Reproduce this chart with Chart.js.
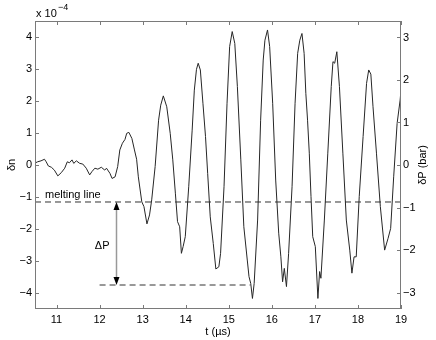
<!DOCTYPE html>
<html lang="en">
<head>
    <meta charset="utf-8" />
    <title>delta n</title>
    <script src="https://cdn.jsdelivr.net/npm/chart.js"></script>
    <style>
        body { margin: 0; background: #fff; }
    </style>
</head>
<body>
    <canvas id="grafico" width="436" height="340"></canvas>
    <script>
        // tempo (us) e delta n (x 1e-4)
        const tempo = [10.5, 10.56, 10.64, 10.72, 10.76, 10.81, 10.88, 10.95, 11.03, 11.11, 11.19, 11.25, 11.30, 11.36, 11.40, 11.46, 11.54, 11.61, 11.69, 11.77, 11.82, 11.89, 11.96, 12.04, 12.12, 12.16, 12.24, 12.29, 12.36, 12.42, 12.47, 12.53, 12.59, 12.63, 12.68, 12.75, 12.81, 12.86, 12.90, 12.98, 13.03, 13.10, 13.16, 13.21, 13.29, 13.37, 13.42, 13.48, 13.56, 13.64, 13.70, 13.76, 13.81, 13.86, 13.90, 13.94, 13.99, 14.07, 14.15, 14.20, 14.25, 14.29, 14.34, 14.40, 14.46, 14.51, 14.57, 14.64, 14.70, 14.77, 14.81, 14.89, 14.96, 15.02, 15.08, 15.14, 15.20, 15.28, 15.35, 15.43, 15.47, 15.51, 15.55, 15.59, 15.67, 15.74, 15.80, 15.84, 15.90, 15.95, 16.02, 16.09, 16.16, 16.21, 16.25, 16.29, 16.34, 16.39, 16.47, 16.54, 16.60, 16.65, 16.70, 16.75, 16.79, 16.83, 16.87, 16.91, 16.95, 17.01, 17.07, 17.11, 17.14, 17.22, 17.30, 17.38, 17.42, 17.46, 17.51, 17.57, 17.65, 17.73, 17.81, 17.86, 17.91, 17.96, 18.03, 18.12, 18.20, 18.25, 18.30, 18.35, 18.43, 18.52, 18.62, 18.70, 18.76, 18.83, 18.91, 18.98, 19.0];
        const deltaN = [0.06, 0.10, 0.13, 0.18, 0.10, -0.03, -0.07, -0.16, -0.34, -0.24, -0.10, 0.10, 0.07, 0.16, 0.05, 0.13, 0.05, 0.03, -0.10, -0.31, -0.21, -0.10, -0.13, -0.07, -0.16, -0.10, -0.26, -0.42, -0.37, -0.05, 0.47, 0.68, 0.80, 0.99, 1.02, 0.83, 0.47, 0.18, -0.37, -1.15, -1.30, -1.84, -1.56, -1.09, -0.05, 1.40, 1.87, 2.16, 1.82, 0.99, 0.16, -0.88, -1.77, -1.93, -2.76, -2.55, -2.24, -0.68, 1.09, 2.34, 2.99, 3.18, 2.97, 1.93, 0.89, -0.26, -1.62, -2.45, -3.25, -3.18, -2.76, -0.68, 1.93, 3.70, 4.17, 3.80, 2.45, 0.16, -1.93, -2.97, -3.49, -3.70, -4.17, -3.70, -1.72, 1.40, 3.28, 3.90, 4.22, 3.70, 1.93, -0.47, -2.13, -2.87, -3.65, -3.23, -3.80, -2.76, -0.68, 1.93, 3.49, 3.90, 4.11, 3.49, 2.24, 1.40, 0.37, -0.99, -2.24, -2.55, -4.17, -3.33, -3.54, -1.72, 0.37, 2.45, 3.23, 3.18, 3.54, 2.45, 0.37, -1.72, -2.66, -3.38, -2.87, -2.87, -0.99, 0.89, 2.55, 2.97, 2.84, 1.82, 0.37, -1.30, -2.66, -2.29, -1.98, -0.37, 1.30, 2.03, 2.35];

        const ticksTempo = [11, 12, 13, 14, 15, 16, 17, 18, 19];
        const ticksDeltaN = [-4, -3, -2, -1, 0, 1, 2, 3, 4];
        const ticksPressao = [-3, -2, -1, 0, 1, 2, 3];

        const linhaFusao = -1.156;     // melting line
        const linhaBaixo = -3.75;      // fim da seta delta P
        const linhaBaixoInicio = 12.0;
        const linhaBaixoFim = 15.5;
        const setaTempo = 12.37;

        const fonte = '11px "Liberation Sans", Arial, sans-serif';
        const corEixo = '#7a7a7a';

        // desenha moldura, ticks para dentro, seta e textos
        const extras = {
            id: 'extras',
            afterDraw(chart) {
                const ctx = chart.ctx;
                const a = chart.chartArea;
                const sx = chart.scales.x, sy = chart.scales.y, sp = chart.scales.y2;
                ctx.save();
                ctx.strokeStyle = corEixo;
                ctx.lineWidth = 1;
                ctx.strokeRect(a.left + 0.5, a.top + 0.5, a.right - a.left - 1, a.bottom - a.top - 1);
                ctx.beginPath();
                ticksTempo.forEach(v => {
                    const px = Math.round(sx.getPixelForValue(v)) + 0.5;
                    ctx.moveTo(px, a.bottom); ctx.lineTo(px, a.bottom - 4);
                    ctx.moveTo(px, a.top); ctx.lineTo(px, a.top + 4);
                });
                ticksDeltaN.forEach(v => {
                    const py = Math.round(sy.getPixelForValue(v)) + 0.5;
                    ctx.moveTo(a.left, py); ctx.lineTo(a.left + 4, py);
                });
                ticksPressao.forEach(v => {
                    const py = Math.round(sp.getPixelForValue(v)) + 0.5;
                    ctx.moveTo(a.right, py); ctx.lineTo(a.right - 4, py);
                });
                ctx.stroke();

                // seta delta P
                const ax = Math.round(sx.getPixelForValue(setaTempo)) + 0.5;
                const y1 = sy.getPixelForValue(linhaFusao);
                const y2 = sy.getPixelForValue(linhaBaixo);
                ctx.strokeStyle = '#999';
                ctx.lineWidth = 1.5;
                ctx.beginPath();
                ctx.moveTo(ax, y1 + 6); ctx.lineTo(ax, y2 - 6);
                ctx.stroke();
                ctx.fillStyle = '#000';
                ctx.beginPath();
                ctx.moveTo(ax, y1); ctx.lineTo(ax - 3, y1 + 8); ctx.lineTo(ax + 3, y1 + 8); ctx.closePath();
                ctx.moveTo(ax, y2); ctx.lineTo(ax - 3, y2 - 8); ctx.lineTo(ax + 3, y2 - 8); ctx.closePath();
                ctx.fill();

                // textos
                ctx.fillStyle = '#000';
                ctx.font = fonte;
                ctx.textBaseline = 'middle';
                ctx.textAlign = 'left';
                ctx.fillText('melting line', a.left + 10, y1 - 7);
                ctx.textAlign = 'right';
                ctx.fillText('ΔP', ax - 7, (y1 + y2) / 2 + 2);

                ctx.textAlign = 'left';
                ctx.fillText('x 10', a.left + 1, 14);
                ctx.font = '9px "Liberation Sans", Arial, sans-serif';
                ctx.fillText('−4', a.left + 23, 8);

                ctx.font = fonte;
                ctx.textAlign = 'center';
                ctx.fillText('t (µs)', (a.left + a.right) / 2, 332);

                const meio = (a.top + a.bottom) / 2;
                ctx.save();
                ctx.translate(12, meio);
                ctx.rotate(-Math.PI / 2);
                ctx.fillText('δn', 0, 0);
                ctx.restore();
                ctx.save();
                ctx.translate(423, meio);
                ctx.rotate(-Math.PI / 2);
                ctx.fillText('δP (bar)', 0, 0);
                ctx.restore();
                ctx.restore();
            }
        };

        const menos = v => String(v).replace('-', '−');

        new Chart(document.getElementById('grafico'), {
            type: 'line',
            data: {
                datasets: [
                    {
                        data: tempo.map((t, i) => ({ x: t, y: deltaN[i] })),
                        borderColor: '#262626',
                        borderWidth: 1,
                        pointRadius: 0,
                        tension: 0
                    },
                    {
                        data: [{ x: 10.5, y: linhaFusao }, { x: 19, y: linhaFusao }],
                        borderColor: '#333',
                        borderWidth: 1,
                        borderDash: [6, 4],
                        pointRadius: 0
                    },
                    {
                        data: [{ x: linhaBaixoInicio, y: linhaBaixo }, { x: linhaBaixoFim, y: linhaBaixo }],
                        borderColor: '#333',
                        borderWidth: 1,
                        borderDash: [6, 4],
                        pointRadius: 0
                    }
                ]
            },
            options: {
                responsive: false,
                animation: false,
                layout: { padding: { top: 21, left: 0, right: 0, bottom: 0 } },
                plugins: { legend: { display: false }, tooltip: { enabled: false } },
                scales: {
                    x: {
                        type: 'linear',
                        min: 10.5,
                        max: 19,
                        grid: { display: false, drawTicks: false },
                        border: { display: false },
                        afterBuildTicks: s => { s.ticks = ticksTempo.map(v => ({ value: v })); },
                        afterFit: s => { s.height = 31; },
                        ticks: { color: '#000', font: { family: '"Liberation Sans", Arial', size: 11 }, padding: 4, maxRotation: 0, autoSkip: false }
                    },
                    y: {
                        position: 'left',
                        min: -4.5,
                        max: 4.5,
                        grid: { display: false, drawTicks: false },
                        border: { display: false },
                        afterBuildTicks: s => { s.ticks = ticksDeltaN.map(v => ({ value: v })); },
                        afterFit: s => { s.width = 35; },
                        ticks: { color: '#000', font: { family: '"Liberation Sans", Arial', size: 11 }, padding: 3, callback: menos }
                    },
                    y2: {
                        position: 'right',
                        min: -3.388,
                        max: 3.388,
                        grid: { display: false, drawTicks: false },
                        border: { display: false },
                        afterBuildTicks: s => { s.ticks = ticksPressao.map(v => ({ value: v })); },
                        afterFit: s => { s.width = 35; },
                        ticks: { color: '#000', font: { family: '"Liberation Sans", Arial', size: 11 }, padding: 2, callback: menos }
                    }
                }
            },
            plugins: [extras]
        });
    </script>
</body>
</html>
